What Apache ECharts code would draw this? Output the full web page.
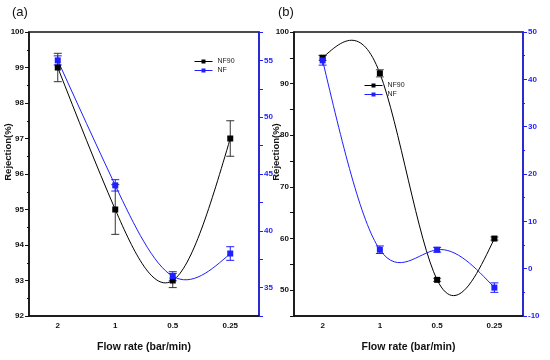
<!DOCTYPE html>
<html>
<head>
<meta charset="utf-8">
<script src="https://cdn.jsdelivr.net/npm/echarts@6/dist/echarts.min.js"></script>
<style>html,body{margin:0;padding:0;background:#fff}#c{width:550px;height:360px}</style>
</head>
<body>
<div id="c"></div>
<script>
// ---- data ----
const categories = ['2', '1', '0.5', '0.25'];
// panel (a)
const aNF90 = [99, 95, 93, 97];
const aNF90Low = [98.6, 94.3, 92.8, 96.5];
const aNF90High = [99.4, 95.7, 93.2, 97.5];
const aNF = [55, 44, 36, 38];
const aNFLow = [54.6, 43.5, 35.6, 37.4];
const aNFHigh = [55.4, 44.5, 36.4, 38.6];
// panel (b)
const bNF90 = [95, 92, 52, 60];
const bNF90Low = [94.5, 91.3, 51.7, 59.7];
const bNF90High = [95.5, 92.7, 52.3, 60.3];
const bNF = [44, 4, 4, -4];
const bNFLow = [43, 3.2, 3.5, -5];
const bNFHigh = [45, 4.8, 4.5, -3];
// axis ranges
const aLeftRange = [92, 100];
const aRightRange = [32.5, 57.5];
const bLeftRange = [45, 100];
const bRightRange = [-10, 50];

const BLUE = '#1f1fff';
const FONT = 'Liberation Sans, Arial, sans-serif';

// natural cubic spline second derivatives (unit spacing between categories)
function naturalM(y) {
  const n = y.length;
  const M = new Array(n).fill(0);
  if (n < 3) return M;
  const a = [], b = [], c = [], d = [];
  for (let i = 1; i < n - 1; i++) {
    a.push(1); b.push(4); c.push(1); d.push(6 * (y[i - 1] - 2 * y[i] + y[i + 1]));
  }
  const m = d.length;
  for (let i = 1; i < m; i++) {
    const w = a[i] / b[i - 1];
    b[i] -= w * c[i - 1]; d[i] -= w * d[i - 1];
  }
  const sol = new Array(m);
  sol[m - 1] = d[m - 1] / b[m - 1];
  for (let i = m - 2; i >= 0; i--) sol[i] = (d[i] - c[i] * sol[i + 1]) / b[i];
  for (let i = 0; i < m; i++) M[i + 1] = sol[i];
  return M;
}
// spline curve drawn as exact cubic Bezier segments through the library's coord transform
function splineSeries(name, y, color, xi, yi) {
  const M = naturalM(y);
  return {
    type: 'custom', name: name + '_curve', xAxisIndex: xi, yAxisIndex: yi, z: 3, silent: true,
    data: y.map((v, i) => [i, v]),
    renderItem: function (params, api) {
      const i = params.dataIndex;
      if (i >= y.length - 1) return null;
      const dy = y[i + 1] - y[i];
      const d0 = dy - (2 * M[i] + M[i + 1]) / 6;
      const d1 = dy + (M[i] + 2 * M[i + 1]) / 6;
      const p0 = api.coord([i, y[i]]);
      const p1 = api.coord([i + 1, y[i + 1]]);
      const c0 = api.coord([i + 1 / 3, y[i] + d0 / 3]);
      const c1 = api.coord([i + 2 / 3, y[i + 1] - d1 / 3]);
      // category coord for fractional index: interpolate x linearly
      const xa = p0[0], xb = p1[0];
      return {
        type: 'bezierCurve',
        shape: { x1: xa, y1: p0[1], x2: xb, y2: p1[1],
                 cpx1: xa + (xb - xa) / 3, cpy1: c0[1], cpx2: xa + 2 * (xb - xa) / 3, cpy2: c1[1] },
        style: { stroke: color, lineWidth: 1, fill: null }
      };
    }
  };
}
function errSeries(name, low, high, color, xi, yi) {
  return {
    type: 'custom', name: name + '_err', xAxisIndex: xi, yAxisIndex: yi, z: 3, silent: true,
    data: low.map((l, i) => [i, l, high[i]]),
    renderItem: function (params, api) {
      const lo = api.coord([api.value(0), api.value(1)]);
      const hi = api.coord([api.value(0), api.value(2)]);
      const w = 4;
      const st = { stroke: color, lineWidth: 1, fill: null };
      return {
        type: 'group', children: [
          { type: 'line', shape: { x1: lo[0], y1: lo[1], x2: hi[0], y2: hi[1] }, style: st },
          { type: 'line', shape: { x1: lo[0] - w, y1: lo[1], x2: lo[0] + w, y2: lo[1] }, style: st },
          { type: 'line', shape: { x1: hi[0] - w, y1: hi[1], x2: hi[0] + w, y2: hi[1] }, style: st }
        ]
      };
    }
  };
}
function markerSeries(name, data, color, xi, yi) {
  return {
    type: 'line', name: name, xAxisIndex: xi, yAxisIndex: yi, data: data,
    symbol: 'rect', symbolSize: 6, z: 4,
    lineStyle: { color: color, width: 0 }, itemStyle: { color: color }
  };
}
const tickLabel = { fontFamily: FONT, fontSize: 8, fontWeight: 'bold', color: '#111' };

function xAxes(gi, boundaryTicks) {
  const arr = [{
    type: 'category', gridIndex: gi, data: categories, boundaryGap: true,
    axisLine: { onZero: false, lineStyle: { color: '#111', width: 1.5 } },
    axisTick: { alignWithLabel: true, length: 4, lineStyle: { color: '#111' } },
    axisLabel: Object.assign({ margin: 6 }, tickLabel),
    name: 'Flow rate (bar/min)', nameLocation: 'middle', nameGap: 26,
    nameTextStyle: { fontFamily: FONT, fontSize: 10.5, fontWeight: 'bold', color: '#111' }
  }];
  if (boundaryTicks) {
    arr.push({
      type: 'category', gridIndex: gi, data: categories, boundaryGap: true, position: 'bottom',
      axisLine: { show: false, onZero: false },
      axisTick: { alignWithLabel: false, length: 3, lineStyle: { color: '#111' } },
      axisLabel: { show: false }
    });
  }
  return arr;
}
function yAxis(gi, range, interval, pos, color, labelStep, minorSplit) {
  const ax = {
    type: 'value', gridIndex: gi, position: pos, min: range[0], max: range[1], interval: interval,
    splitLine: { show: false },
    axisLine: { show: true, lineStyle: { color: color, width: 1.5 } },
    axisTick: { show: true, length: 4, lineStyle: { color: color } },
    axisLabel: Object.assign({}, tickLabel, {
      color: color, margin: 5,
      formatter: function (v) { return (Math.abs(v / labelStep - Math.round(v / labelStep)) < 1e-6) ? String(v) : ''; }
    })
  };
  if (minorSplit) {
    ax.minorTick = { show: true, splitNumber: minorSplit, length: 2, lineStyle: { color: color } };
  }
  return ax;
}
const legendCommon = {
  orient: 'vertical', itemGap: 2, itemWidth: 18, itemHeight: 5, selectedMode: false,
  textStyle: { fontFamily: FONT, fontSize: 7, color: '#222' },
  lineStyle: { width: 1 }
};

const chart = echarts.init(document.getElementById('c'), null, { renderer: 'canvas' });
chart.setOption({
  animation: false,
  backgroundColor: '#fff',
  grid: [
    { left: 29, right: 291, top: 32, bottom: 44, show: true, borderColor: '#111', borderWidth: 1.5, backgroundColor: 'transparent' },
    { left: 294, right: 27, top: 32, bottom: 44, show: true, borderColor: '#111', borderWidth: 1.5, backgroundColor: 'transparent' }
  ],
  xAxis: [].concat(xAxes(0, false), xAxes(1, true)),
  yAxis: [
    yAxis(0, aLeftRange, 1, 'left', '#111', 1, 2),
    yAxis(0, aRightRange, 2.5, 'right', BLUE, 5, 0),
    yAxis(1, bLeftRange, 5, 'left', '#111', 10, 0),
    yAxis(1, bRightRange, 10, 'right', BLUE, 10, 2)
  ],
  legend: [
    Object.assign({ data: ['NF90', 'NF'], left: 189, top: 53 }, legendCommon),
    Object.assign({ data: ['NF90 ', 'NF '], left: 359, top: 77 }, legendCommon)
  ],
  series: [
    splineSeries('aNF90', aNF90, '#000', 0, 0),
    splineSeries('aNF', aNF, BLUE, 0, 1),
    errSeries('aNF90', aNF90Low, aNF90High, '#333', 0, 0),
    errSeries('aNF', aNFLow, aNFHigh, BLUE, 0, 1),
    markerSeries('NF90', aNF90, '#000', 0, 0),
    markerSeries('NF', aNF, BLUE, 0, 1),
    splineSeries('bNF90', bNF90, '#000', 2, 2),
    splineSeries('bNF', bNF, BLUE, 2, 3),
    errSeries('bNF90', bNF90Low, bNF90High, '#555', 2, 2),
    errSeries('bNF', bNFLow, bNFHigh, BLUE, 2, 3),
    markerSeries('NF90 ', bNF90, '#000', 2, 2),
    markerSeries('NF ', bNF, BLUE, 2, 3)
  ],
  graphic: [
    { type: 'text', left: 12, top: 6, style: { text: '(a)', fontFamily: FONT, fontSize: 13, fill: '#111' } },
    { type: 'text', left: 278, top: 6, style: { text: '(b)', fontFamily: FONT, fontSize: 13, fill: '#111' } },
    { type: 'text', x: 8, y: 152, rotation: Math.PI / 2,
      style: { text: 'Rejection(%)', fontFamily: FONT, fontSize: 9.5, fontWeight: 'bold', fill: '#111', align: 'center', verticalAlign: 'middle' } },
    { type: 'text', x: 276, y: 152, rotation: Math.PI / 2,
      style: { text: 'Rejection(%)', fontFamily: FONT, fontSize: 9.5, fontWeight: 'bold', fill: '#111', align: 'center', verticalAlign: 'middle' } }
  ]
});
</script>
</body>
</html>
